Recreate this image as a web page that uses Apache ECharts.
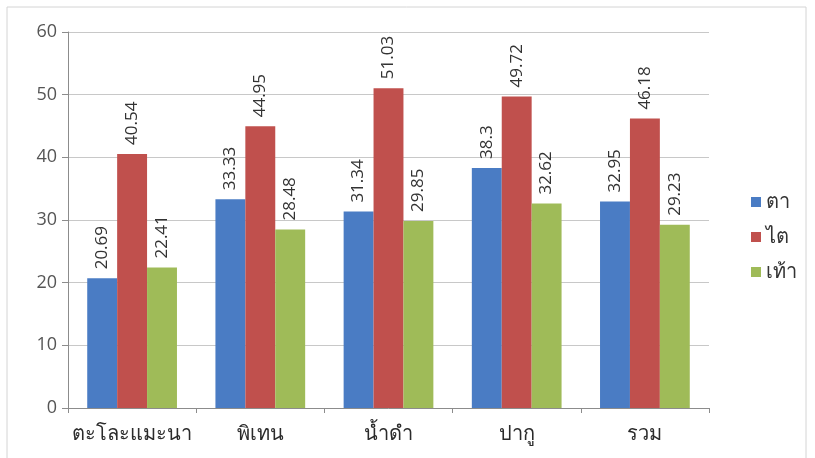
<!DOCTYPE html>
<html>
<head>
<meta charset="utf-8">
<script src="https://cdn.jsdelivr.net/npm/echarts@6/dist/echarts.min.js"></script>
<style>
  html, body { margin: 0; padding: 0; background: #fff; }
  #chart { width: 815px; height: 458px; }
</style>
</head>
<body>
<div id="chart"></div>
<script>
// Districts along the x axis
const categories = ['ตะโละแมะนา', 'พิเทน', 'น้ำดำ', 'ปากู', 'รวม'];
// Percentages per organ
const seriesNames = ['ตา', 'ไต', 'เท้า'];
const eyeValues = [20.69, 33.33, 31.34, 38.3, 32.95];
const kidneyValues = [40.54, 44.95, 51.03, 49.72, 46.18];
const footValues = [22.41, 28.48, 29.85, 32.62, 29.23];
const colors = ['#4a7cc4', '#c0504d', '#9fbb58'];

const font = '"Open Sans", "Noto Sans", "Liberation Sans", sans-serif';

const chart = echarts.init(document.getElementById('chart'));

function makeSeries(name, data, color) {
  return {
    name: name,
    type: 'bar',
    data: data,
    barGap: '0%',
    barCategoryGap: '30%',
    itemStyle: { color: color },
    label: {
      show: true,
      position: 'top',
      rotate: 90,
      align: 'left',
      verticalAlign: 'middle',
      distance: 9,
      color: '#333',
      fontSize: 17,
      fontFamily: font,
      formatter: p => String(p.value)
    }
  };
}

chart.setOption({
  backgroundColor: '#fff',
  animation: false,
  graphic: [{
    type: 'rect',
    shape: { x: 7, y: 7, width: 799, height: 470 },
    style: { fill: 'none', stroke: '#d4d4d4', lineWidth: 1 },
    silent: true
  }],
  grid: { left: 68, right: 106, top: 32, bottom: 50 },
  legend: {
    orient: 'vertical',
    left: 746,
    top: 187,
    itemWidth: 10,
    itemHeight: 10,
    itemGap: 15,
    icon: 'rect',
    textStyle: { fontSize: 20, color: '#333', fontFamily: font },
    data: seriesNames
  },
  xAxis: {
    type: 'category',
    data: categories,
    axisLine: { lineStyle: { color: '#8c8c8c' } },
    axisTick: { show: true, length: 5, lineStyle: { color: '#8c8c8c' } },
    axisLabel: { interval: 0, fontSize: 20, color: '#2b2b2b', margin: 16, fontFamily: font }
  },
  yAxis: {
    type: 'value',
    min: 0,
    max: 60,
    interval: 10,
    axisLine: { show: true, lineStyle: { color: '#8c8c8c' } },
    axisTick: { show: true, length: 6, lineStyle: { color: '#8c8c8c' } },
    axisLabel: { fontSize: 18, color: '#555', margin: 11, fontFamily: font },
    splitLine: { lineStyle: { color: '#c8c8c8' } }
  },
  series: [
    makeSeries(seriesNames[0], eyeValues, colors[0]),
    makeSeries(seriesNames[1], kidneyValues, colors[1]),
    makeSeries(seriesNames[2], footValues, colors[2])
  ]
});
</script>
</body>
</html>
